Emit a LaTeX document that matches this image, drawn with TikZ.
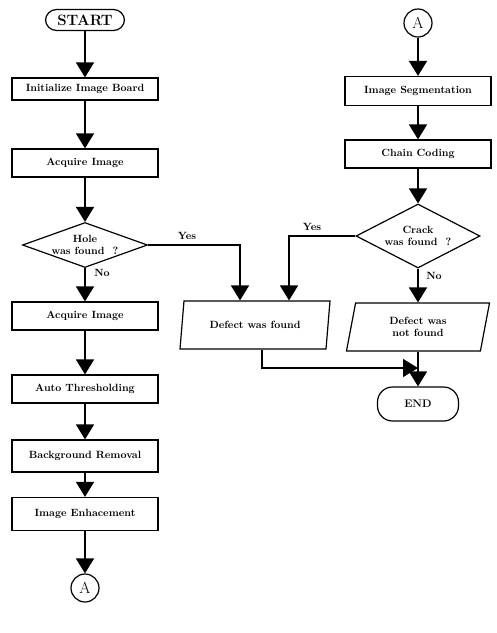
\documentclass[tikz,border=0pt]{standalone}
\usetikzlibrary{shapes.geometric,arrows.meta}
\tikzset{
  txt/.style={font=\bfseries\fontsize{10.5}{12}\selectfont},
  stepbox/.style={draw,txt,line width=1.2pt,minimum width=146pt,minimum height=28pt,inner sep=1pt},
  decision/.style={draw,txt,diamond,line width=1.2pt,aspect=2.8,inner sep=0pt,align=center},
  iobox/.style={draw,txt,trapezium,trapezium left angle=67,trapezium right angle=113,
    trapezium stretches body,line width=1.2pt,minimum height=48pt,align=center,inner sep=1pt},
  terminal/.style={draw,line width=1.2pt,rounded corners=11pt,inner sep=1pt},
  connector/.style={draw,circle,line width=1.2pt,minimum size=28pt,inner sep=0pt,font=\fontsize{16}{16}\selectfont},
  flow/.style={line width=1.5pt,-{Triangle[width=18pt,length=15pt]}},
}
\begin{document}
\begin{tikzpicture}[x=1pt,y=-1pt]
    \useasboundingbox (0,0) rectangle (497,633);
    \node[terminal,minimum width=79pt,minimum height=21pt,font=\bfseries\fontsize{15}{15}\selectfont] (start) at (85,20) {START};
    \node[stepbox,minimum height=22pt] (init) at (85,89) {Initialize Image Board};
    \node[stepbox] (acq) at (85,163) {Acquire Image};
    \node[decision,minimum width=125pt,minimum height=45pt] (hole) at (85,245) {Hole\\was found\ \ ?};
    \node[stepbox] (acqb) at (85,316) {Acquire Image};
    \node[stepbox] (thresh) at (85,389) {Auto Thresholding};
    \node[stepbox,minimum height=32pt] (backg) at (85,456) {Background Removal};
    \node[stepbox,minimum height=33pt] (enh) at (85,514) {Image Enhacement};
    \node[connector] (conA) at (85,588) {A};

    \node[connector] (conB) at (418,23) {A};
    \node[stepbox,minimum height=29pt] (segm) at (418,91) {Image Segmentation};
    \node[stepbox] (chain) at (418,154) {Chain Coding};
    \node[decision,minimum width=124pt,minimum height=64pt] (crack) at (418,236) {Crack\\was found\ \ ?};
    \node[iobox,minimum width=150pt] (dfound) at (255,325) {Defect was found};
    \node[iobox,minimum width=143pt] (dnot) at (418,327) {Defect was\\not found};
    \node[terminal,minimum width=81pt,minimum height=34pt,rounded corners=15pt,font=\bfseries\fontsize{11}{11}\selectfont] (endn) at (418,404) {END};

    \node[txt] (yesA) at (187,236) {Yes};
    \node[txt] (noA) at (102,273) {No};
    \node[txt] (yesB) at (312,227) {Yes};
    \node[txt] (noB) at (434,276) {No};
    \coordinate (join) at (418,368);

    \draw[flow] (start) -- (init);
    \draw[flow] (init) -- (acq);
    \draw[flow] (acq) -- (hole);
    \draw[flow] (hole) -- (acqb);
    \draw[flow] (acqb) -- (thresh);
    \draw[flow] (thresh) -- (backg);
    \draw[flow] (backg) -- (enh);
    \draw[flow] (enh) -- (conA);
    \draw[flow] (conB) -- (segm);
    \draw[flow] (segm) -- (chain);
    \draw[flow] (chain) -- (crack);
    \draw[flow] (crack) -- (crack |- dnot.north);
    \draw[flow] (hole.east) -| ([xshift=-15pt]dfound.north);
    \draw[flow] (crack.west) -| ([xshift=34pt]dfound.north);
    \draw[flow] ([xshift=7pt]dfound.south) |- (join);
    \draw[flow] (dnot.south -| endn.north) -- (endn);
\end{tikzpicture}
\end{document}
